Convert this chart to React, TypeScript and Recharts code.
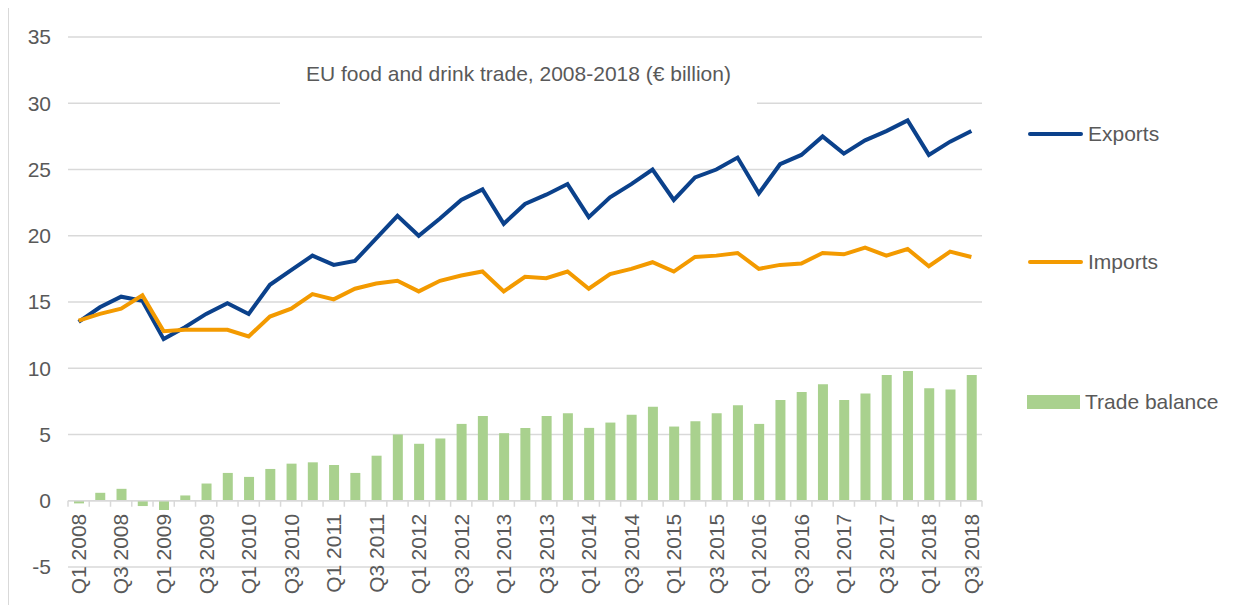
import React from 'react';
import { ComposedChart, Bar, Line, XAxis, YAxis, CartesianGrid, ReferenceLine } from 'recharts';

const quarters = [
  'Q1 2008', 'Q2 2008', 'Q3 2008', 'Q4 2008',
  'Q1 2009', 'Q2 2009', 'Q3 2009', 'Q4 2009',
  'Q1 2010', 'Q2 2010', 'Q3 2010', 'Q4 2010',
  'Q1 2011', 'Q2 2011', 'Q3 2011', 'Q4 2011',
  'Q1 2012', 'Q2 2012', 'Q3 2012', 'Q4 2012',
  'Q1 2013', 'Q2 2013', 'Q3 2013', 'Q4 2013',
  'Q1 2014', 'Q2 2014', 'Q3 2014', 'Q4 2014',
  'Q1 2015', 'Q2 2015', 'Q3 2015', 'Q4 2015',
  'Q1 2016', 'Q2 2016', 'Q3 2016', 'Q4 2016',
  'Q1 2017', 'Q2 2017', 'Q3 2017', 'Q4 2017',
  'Q1 2018', 'Q2 2018', 'Q3 2018',
];

const exportsValues = [
  13.5, 14.6, 15.4, 15.1, 12.2, 13.1, 14.1, 14.9, 14.1, 16.3,
  17.4, 18.5, 17.8, 18.1, 19.8, 21.5, 20.0, 21.3, 22.7, 23.5,
  20.9, 22.4, 23.1, 23.9, 21.4, 22.9, 23.9, 25.0, 22.7, 24.4,
  25.0, 25.9, 23.2, 25.4, 26.1, 27.5, 26.2, 27.2, 27.9, 28.7,
  26.1, 27.1, 27.9,
];

const importsValues = [
  13.6, 14.1, 14.5, 15.5, 12.8, 12.9, 12.9, 12.9, 12.4, 13.9,
  14.5, 15.6, 15.2, 16.0, 16.4, 16.6, 15.8, 16.6, 17.0, 17.3,
  15.8, 16.9, 16.8, 17.3, 16.0, 17.1, 17.5, 18.0, 17.3, 18.4,
  18.5, 18.7, 17.5, 17.8, 17.9, 18.7, 18.6, 19.1, 18.5, 19.0,
  17.7, 18.8, 18.4,
];

const tradeBalance = [
  -0.2, 0.6, 0.9, -0.4, -0.7, 0.4, 1.3, 2.1, 1.8, 2.4,
  2.8, 2.9, 2.7, 2.1, 3.4, 5.0, 4.3, 4.7, 5.8, 6.4,
  5.1, 5.5, 6.4, 6.6, 5.5, 5.9, 6.5, 7.1, 5.6, 6.0,
  6.6, 7.2, 5.8, 7.6, 8.2, 8.8, 7.6, 8.1, 9.5, 9.8,
  8.5, 8.4, 9.5,
];

const yTicks = [-5, 0, 5, 10, 15, 20, 25, 30, 35];

const data = quarters.map((quarter, i) => ({
  quarter,
  exports: exportsValues[i],
  imports: importsValues[i],
  balance: tradeBalance[i],
}));

const FONT = '"Liberation Sans", Arial, sans-serif';
const TEXT = '#595959';
const GRID = '#d9d9d9';
const BLUE = '#0b418b';
const ORANGE = '#f39a00';
const GREEN = '#a9d18e';

const CHART_W = 1228;
const CHART_H = 597;
const MARGIN = { top: 29, right: 255, bottom: 37, left: 0 };
const Y_AXIS_W = 59;
const X_AXIS_H = 1;
const PLOT_W = CHART_W - MARGIN.left - MARGIN.right - Y_AXIS_W;
const PLOT_H = CHART_H - MARGIN.top - MARGIN.bottom - X_AXIS_H;
const Y_MIN = yTicks[0];
const Y_MAX = yTicks[yTicks.length - 1];
// the category axis sits on the zero line, not at the bottom of the plot
const ZERO_Y = MARGIN.top + (PLOT_H * Y_MAX) / (Y_MAX - Y_MIN);
const BAND = PLOT_W / quarters.length;

const QuarterTick = (props: any) => {
  const { x, payload } = props;
  const index = props.index ?? payload?.index ?? 0;
  const left = x - BAND / 2;
  const ty = ZERO_Y + 13;
  return (
    <g>
      <line x1={left} x2={left} y1={ZERO_Y} y2={ZERO_Y + 6} stroke={GRID} strokeWidth={1.5} />
      {index === quarters.length - 1 && (
        <line x1={x + BAND / 2} x2={x + BAND / 2} y1={ZERO_Y} y2={ZERO_Y + 6} stroke={GRID} strokeWidth={1.5} />
      )}
      {index % 2 === 0 && (
        <text
          x={x}
          y={ty}
          dy="0.35em"
          textAnchor="end"
          transform={`rotate(-90 ${x} ${ty})`}
          fill={TEXT}
          fontSize={21}
          fontFamily={FONT}
        >
          {payload.value}
        </text>
      )}
    </g>
  );
};

const LegendRow = ({ top, left, children }: { top: number; left: number; children: React.ReactNode }) => (
  <div style={{ position: 'absolute', top, left, height: 24, display: 'flex', alignItems: 'center', fontSize: 21, color: TEXT, whiteSpace: 'nowrap' }}>
    {children}
  </div>
);

export default function App() {
  return (
    <div
      style={{
        position: 'relative',
        width: CHART_W,
        height: CHART_H,
        marginTop: -1,
        borderTop: `1px solid ${GRID}`,
        borderLeft: `1px solid ${GRID}`,
        fontFamily: FONT,
        background: '#fff',
      }}
    >
      <ComposedChart width={CHART_W} height={CHART_H} data={data} margin={MARGIN}>
        <CartesianGrid vertical={false} stroke={GRID} strokeWidth={1.5} />
        <XAxis
          dataKey="quarter"
          interval={0}
          height={X_AXIS_H}
          axisLine={false}
          tickLine={false}
          tick={<QuarterTick />}
        />
        <YAxis
          domain={[Y_MIN, Y_MAX]}
          ticks={yTicks}
          width={Y_AXIS_W}
          axisLine={false}
          tickLine={false}
          tickMargin={11}
          tick={{ fontSize: 21, fill: TEXT, fontFamily: FONT }}
        />
        <ReferenceLine y={0} stroke={GRID} strokeWidth={1.5} />
        <Bar dataKey="balance" name="Trade balance" fill={GREEN} barSize={10} isAnimationActive={false} />
        <Line
          dataKey="exports"
          name="Exports"
          stroke={BLUE}
          strokeWidth={4}
          dot={false}
          activeDot={false}
          isAnimationActive={false}
        />
        <Line
          dataKey="imports"
          name="Imports"
          stroke={ORANGE}
          strokeWidth={4}
          dot={false}
          activeDot={false}
          isAnimationActive={false}
        />
      </ComposedChart>

      <div style={{ position: 'absolute', left: 271, top: 40, width: 477, height: 64, background: '#fff' }}>
        <div style={{ position: 'absolute', left: 0, top: 14, width: '100%', textAlign: 'center', fontSize: 21, lineHeight: '24px', color: TEXT }}>
          EU food and drink trade, 2008-2018 (€ billion)
        </div>
      </div>

      <LegendRow top={114} left={1019}>
        <span style={{ display: 'inline-block', width: 55, height: 4, borderRadius: 2, background: BLUE, marginRight: 5 }} />
        Exports
      </LegendRow>
      <LegendRow top={242} left={1019}>
        <span style={{ display: 'inline-block', width: 55, height: 4, borderRadius: 2, background: ORANGE, marginRight: 5 }} />
        Imports
      </LegendRow>
      <LegendRow top={382} left={1018}>
        <span style={{ display: 'inline-block', width: 53, height: 14, background: GREEN, marginRight: 5 }} />
        Trade balance
      </LegendRow>
    </div>
  );
}
